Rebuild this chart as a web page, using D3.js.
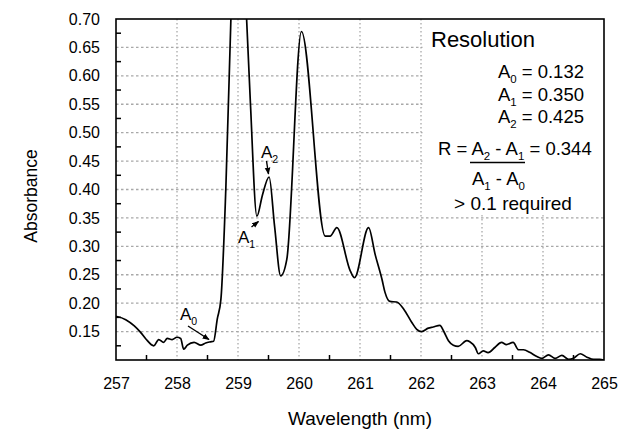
<!DOCTYPE html>
<html><head><meta charset="utf-8">
<script src="https://cdn.jsdelivr.net/npm/d3@7"></script>
<style>body{margin:0;background:#fff;} text{font-family:"Liberation Sans",Arial,Helvetica,sans-serif;}</style>
</head><body><svg id="c" width="621" height="430"></svg>
<script>
const wavelength = [257.00,257.16,257.30,257.40,257.49,257.62,257.70,257.78,257.84,257.92,258.00,258.06,258.11,258.17,258.28,258.39,258.47,258.55,258.60,258.66,258.72,258.80,258.90,259.00,259.10,259.20,259.31,259.40,259.51,259.60,259.70,259.80,260.04,260.43,260.51,260.62,260.84,260.91,261.14,261.25,261.36,261.41,261.49,261.60,261.72,261.85,261.93,262.01,262.12,262.20,262.31,262.37,262.45,262.53,262.61,262.75,262.80,262.89,262.94,263.02,263.10,263.21,263.32,263.40,263.51,263.60,263.68,263.79,263.90,263.98,264.09,264.20,264.31,264.42,264.50,264.61,264.72,264.83,264.93,265.00];
const absorbance = [0.177,0.171,0.160,0.149,0.137,0.125,0.136,0.131,0.138,0.136,0.140,0.138,0.119,0.126,0.131,0.126,0.130,0.132,0.133,0.172,0.207,0.40,0.76,1.05,0.80,0.56,0.353,0.39,0.422,0.335,0.248,0.277,0.678,0.318,0.318,0.333,0.257,0.245,0.333,0.285,0.242,0.219,0.203,0.202,0.189,0.166,0.154,0.150,0.156,0.158,0.161,0.151,0.134,0.126,0.124,0.134,0.132,0.122,0.111,0.116,0.113,0.122,0.131,0.127,0.131,0.118,0.118,0.113,0.106,0.103,0.109,0.103,0.108,0.101,0.103,0.111,0.105,0.101,0.101,0.100];
const xTicks = [257,258,259,260,261,262,263,264,265];
const yTicks = [0.15,0.20,0.25,0.30,0.35,0.40,0.45,0.50,0.55,0.60,0.65,0.70];
const xMinor = [257.5,258.5,259.5,260.5,261.5,262.5,263.5,264.5];
const yMinor = [0.125,0.175,0.225,0.275,0.325,0.375,0.425,0.475,0.525,0.575,0.625,0.675];
const resNames = ["0","1","2"];
const resValues = ["0.132","0.350","0.425"];
const resolutionR = "0.344";

const L=116,T=19,R=604,B=360;
const svg=d3.select("#c");
const x=d3.scaleLinear().domain([257,265]).range([L,R]);
const y=d3.scaleLinear().domain([0.10,0.70]).range([B,T]);

// grid
const g=svg.append("g");
g.selectAll(".vg").data(xTicks.slice(1,-1)).join("line")
 .attr("x1",d=>x(d)).attr("x2",d=>x(d)).attr("y1",T).attr("y2",B)
 .attr("stroke","#a8a8a8").attr("stroke-width",1.3).attr("stroke-dasharray","1.5,2.5");
g.selectAll(".hg").data(yTicks.slice(0,-1)).join("line")
 .attr("x1",L).attr("x2",R).attr("y1",d=>y(d)).attr("y2",d=>y(d))
 .attr("stroke","#a8a8a8").attr("stroke-width",1.3).attr("stroke-dasharray","2.5,2.5");

// legend background
svg.append("rect").attr("x",x(262)+1.5).attr("y",T).attr("width",R-x(262)-1.5).attr("height",y(0.355)-T).attr("fill","#fff");

// curve
svg.append("clipPath").attr("id","clip").append("rect").attr("x",L).attr("y",T).attr("width",R-L).attr("height",B-T);
const pts=wavelength.map((w,i)=>[w,absorbance[i]]);
svg.append("path").datum(pts).attr("clip-path","url(#clip)")
 .attr("d",d3.line().x(d=>x(d[0])).y(d=>y(d[1])).curve(d3.curveMonotoneX))
 .attr("fill","none").attr("stroke","#000").attr("stroke-width",1.7).attr("stroke-linejoin","round");

// axes
const xa=svg.append("g").attr("transform",`translate(0,${B})`)
 .call(d3.axisBottom(x).tickValues(xTicks).tickSize(0).tickPadding(18).tickFormat(d3.format("d")));
xa.select(".domain").remove();
xa.selectAll("text").attr("font-size",16).attr("fill","#000").attr("font-family","Liberation Sans, Arial, sans-serif");
const ya=svg.append("g").attr("transform",`translate(${L},0)`)
 .call(d3.axisLeft(y).tickValues(yTicks).tickSize(0).tickPadding(16).tickFormat(d3.format(".2f")));
ya.select(".domain").remove();
ya.selectAll("text").attr("font-size",16).attr("fill","#000").attr("font-family","Liberation Sans, Arial, sans-serif");

svg.selectAll(".xm").data(xMinor).join("line").attr("x1",d=>x(d)).attr("x2",d=>x(d)).attr("y1",B).attr("y2",B-5).attr("stroke","#000").attr("stroke-width",1.5);
svg.selectAll(".ym").data(yMinor).join("line").attr("y1",d=>y(d)).attr("y2",d=>y(d)).attr("x1",L).attr("x2",L+5).attr("stroke","#000").attr("stroke-width",1.5);
svg.append("rect").attr("x",L).attr("y",T).attr("width",R-L).attr("height",B-T).attr("fill","none").attr("stroke","#000").attr("stroke-width",1.6);

// axis titles
svg.append("text").attr("x",360).attr("y",425).attr("text-anchor","middle").attr("font-size",19).text("Wavelength (nm)");
svg.append("text").attr("transform","translate(37,196) rotate(-90)").attr("text-anchor","middle").attr("font-size",17.5).text("Absorbance");

// arrows
const defs=svg.append("defs");
defs.append("marker").attr("id","ah").attr("viewBox","0 0 10 10").attr("refX",9).attr("refY",5)
 .attr("markerWidth",7).attr("markerHeight",7).attr("markerUnits","userSpaceOnUse").attr("orient","auto")
 .append("path").attr("d","M0,1 L10,5 L0,9 Z").attr("fill","#000");
function arrow(p0,p1){svg.append("line").attr("x1",p0[0]).attr("y1",p0[1]).attr("x2",p1[0]).attr("y2",p1[1]).attr("stroke","#000").attr("stroke-width",1.4).attr("marker-end","url(#ah)");}
function subText(t,parts,fs){
  parts.forEach(p=>{
    if(p.sub) t.append("tspan").attr("dy",5).attr("font-size",fs*0.62).text(p.t);
    else t.append("tspan").attr("dy",p.after?-5:0).text(p.t);
  });
}
function label(xp,yp,fs,anchor){return svg.append("text").attr("x",xp).attr("y",yp).attr("font-size",fs).attr("text-anchor",anchor||"start");}
// A0
let t=label(180,320,17); subText(t,[{t:"A"},{t:"0",sub:true}],17);
arrow([188,326],[209,339.5]);
// A1
t=label(238,243,17); subText(t,[{t:"A"},{t:"1",sub:true}],17);
arrow([251.5,227],[258.5,221.5]);
// A2
t=label(261,158,17); subText(t,[{t:"A"},{t:"2",sub:true}],17);
arrow([266.5,161],[268.5,174]);

// legend
svg.append("text").attr("x",431).attr("y",47).attr("font-size",22).text("Resolution");
resValues.forEach((v,i)=>{
  const tt=label(584,78+i*22.5,18.5,"end");
  subText(tt,[{t:"A"},{t:resNames[i],sub:true},{t:" = "+v,after:true}],18.5);
});
t=label(438,155,18.5);
subText(t,[{t:"R = A"},{t:"2",sub:true},{t:" - A",after:true},{t:"1",sub:true},{t:" = "+resolutionR,after:true}],18.5);
svg.append("line").attr("x1",470).attr("x2",525).attr("y1",162.5).attr("y2",162.5).attr("stroke","#000").attr("stroke-width",1.4);
t=label(472,185,18.5);
subText(t,[{t:"A"},{t:"1",sub:true},{t:" - A",after:true},{t:"0",sub:true}],18.5);
svg.append("text").attr("x",513).attr("y",210).attr("text-anchor","middle").attr("font-size",19).text("> 0.1 required");
</script></body></html>
